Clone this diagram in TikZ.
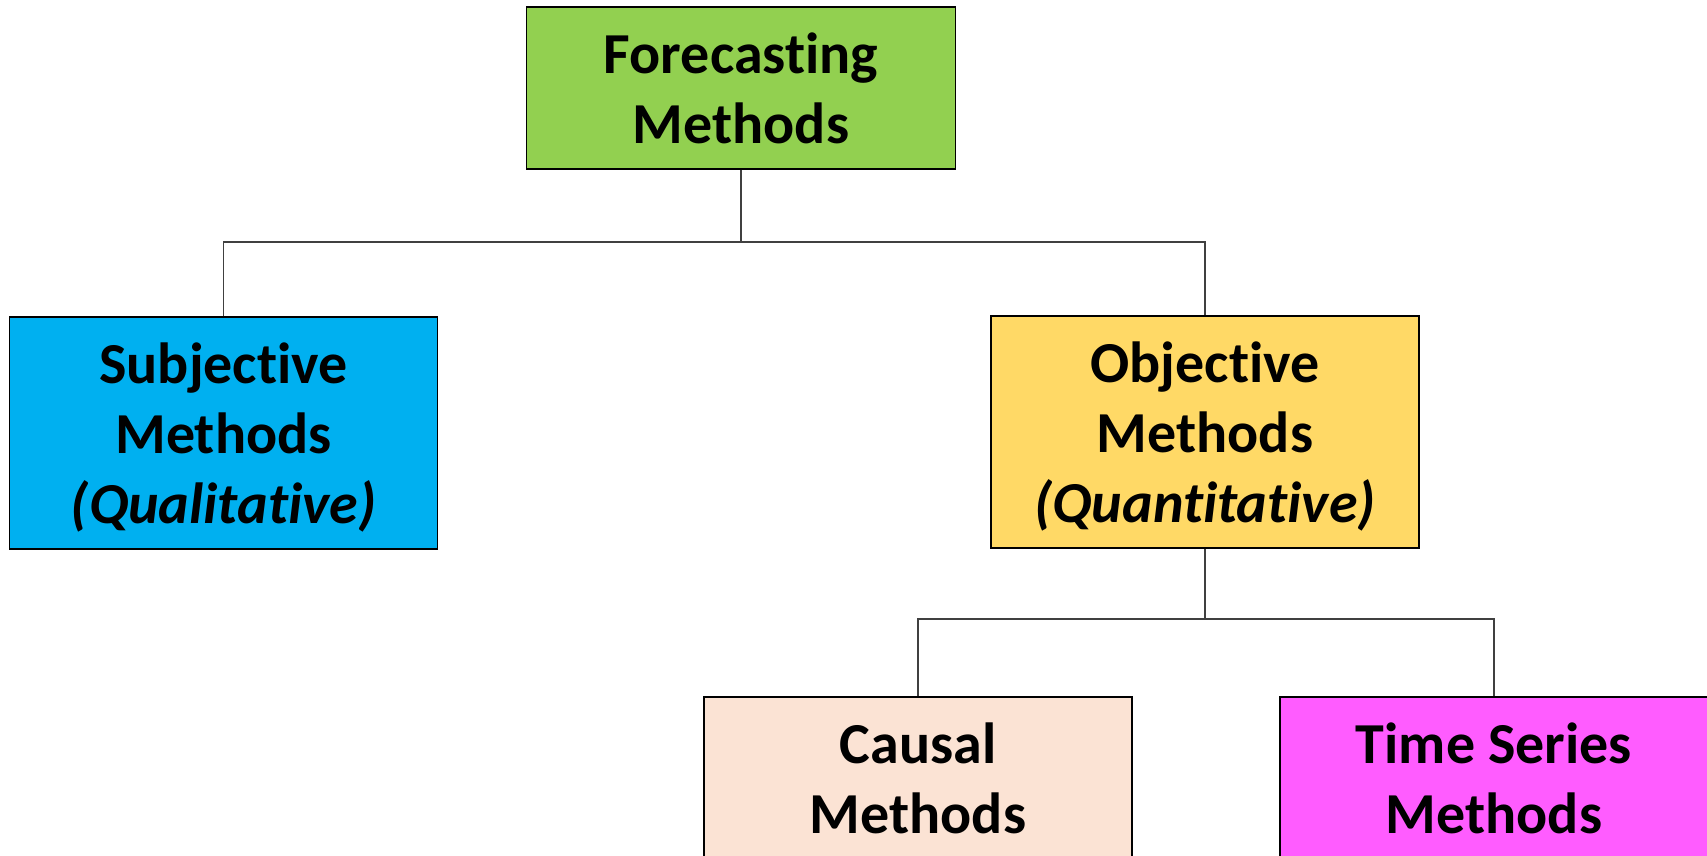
\documentclass[tikz,border=0pt]{standalone}
\usepackage{fontspec}
\setmainfont[Ligatures=NoCommon]{Carlito}
\definecolor{cgreen}{HTML}{92D050}
\definecolor{cblue}{HTML}{00B0F0}
\definecolor{cyellow}{HTML}{FFD966}
\definecolor{cpeach}{HTML}{FBE3D4}
\definecolor{cmagenta}{HTML}{FF5CFF}
\begin{document}
\begin{tikzpicture}[x=1pt,y=-1pt,
  box/.style={draw=black,line width=1.6pt,minimum width=428pt,inner sep=0pt,
    align=center,font=\fontsize{58}{70}\selectfont\bfseries},
  conn/.style={draw=black!75,line width=1.3pt}]
\useasboundingbox (0,0) rectangle (1707,855);
\begin{scope}
\clip (0,0) rectangle (1707,855);
\node[box,fill=cgreen,minimum height=162pt,minimum width=429pt] (top) at (741,88) {Forecasting\\Methods};
\node[box,fill=cblue,minimum height=232pt,text depth=0pt] (subj) at (223.5,433) {Subjective\\Methods\\\itshape (Qualitative)};
\node[box,fill=cyellow,minimum height=232pt,text depth=0pt] (obj) at (1205,432) {Objective\\Methods\\\itshape (Quantitative)};
\node[box,fill=cpeach,minimum height=162pt] (caus) at (918,778) {Causal\\Methods};
\node[box,fill=cmagenta,minimum height=162pt] (ts) at (1494,778) {Time Series\\Methods};
\coordinate (bus1) at (741,242);
\coordinate (bus2) at (1205,619);
\draw[conn] (top.south) -- (bus1);
\draw[conn] (subj.north) |- (bus1) -| (obj.north);
\draw[conn] (obj.south) -- (bus2);
\draw[conn] (caus.north) |- (bus2) -| (ts.north);
\end{scope}
\end{tikzpicture}
\end{document}
